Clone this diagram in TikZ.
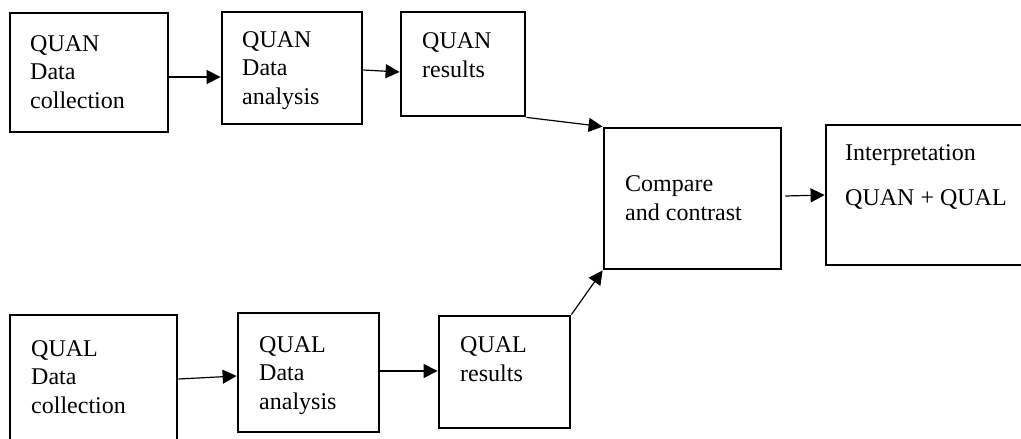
\documentclass[tikz,border=0pt]{standalone}
\usepackage{fontspec}
\setmainfont{Liberation Serif}
\usetikzlibrary{arrows.meta}
\tikzstyle{box} = [rectangle, draw=black, line width=2.8pt, inner sep=0pt]
\tikzstyle{boxtext} = [anchor=base west, align=left, inner sep=0pt, font=\fontsize{24}{28.5}\selectfont]
\tikzstyle{arrow} = [line width=1.2pt, -{Triangle[length=14pt, width=14pt]}]

\begin{document}
\begin{tikzpicture}[x=1pt, y=-1pt]
        \clip (0,0) rectangle (1021,439);

        % quantitative strand
        \node (quancoll) [box, minimum width=158pt, minimum height=119pt] at (89,72.5) {};
        \node (quanana) [box, minimum width=140pt, minimum height=112pt] at (292,68) {};
        \node (quanres) [box, minimum width=124pt, minimum height=104pt] at (463,64) {};

        % qualitative strand
        \node (qualcoll) [box, minimum width=167pt, minimum height=130pt] at (93.5,380) {};
        \node (qualana) [box, minimum width=141pt, minimum height=119pt] at (308.5,372.5) {};
        \node (qualres) [box, minimum width=131pt, minimum height=112pt] at (504.5,372) {};

        % merging
        \node (compare) [box, minimum width=177pt, minimum height=141pt] at (692.5,198.5) {};
        \node (interp) [box, minimum width=214pt, minimum height=140pt] at (933,195) {};

        % labels, placed by the baseline of their last line
        \node (quancoll-t) [boxtext] at (30,108) {QUAN\\Data\\collection};
        \node (quanana-t) [boxtext] at (242,104) {QUAN\\Data\\analysis};
        \node (quanres-t) [boxtext] at (422,77) {QUAN\\results};
        \node (qualcoll-t) [boxtext] at (31,413) {QUAL\\Data\\collection};
        \node (qualana-t) [boxtext] at (259,409) {QUAL\\Data\\analysis};
        \node (qualres-t) [boxtext] at (460,381) {QUAL\\results};
        \node (compare-t) [boxtext] at (625,220) {Compare\\and contrast};
        \node (interp-t) [boxtext] at (845,205) {Interpretation\\[16.5pt]QUAN + QUAL};

        \draw [arrow] ([yshift=-4.5pt]quancoll.east) -- ([yshift=-9pt]quanana.west);
        \draw [arrow] ([yshift=-2pt]quanana.east) -- ([yshift=-8pt]quanres.west);
        \draw [arrow] (quanres.south east) -- (compare.north west);

        \draw [arrow] ([yshift=1pt]qualcoll.east) -- ([yshift=-3.5pt]qualana.west);
        \draw [arrow] ([yshift=1.5pt]qualana.east) -- ([yshift=1pt]qualres.west);
        \draw [arrow] (qualres.north east) -- (compare.south west);

        \draw [arrow] ([yshift=2.5pt,xshift=3pt]compare.east) -- (interp.west);

    \end{tikzpicture}
\end{document}
